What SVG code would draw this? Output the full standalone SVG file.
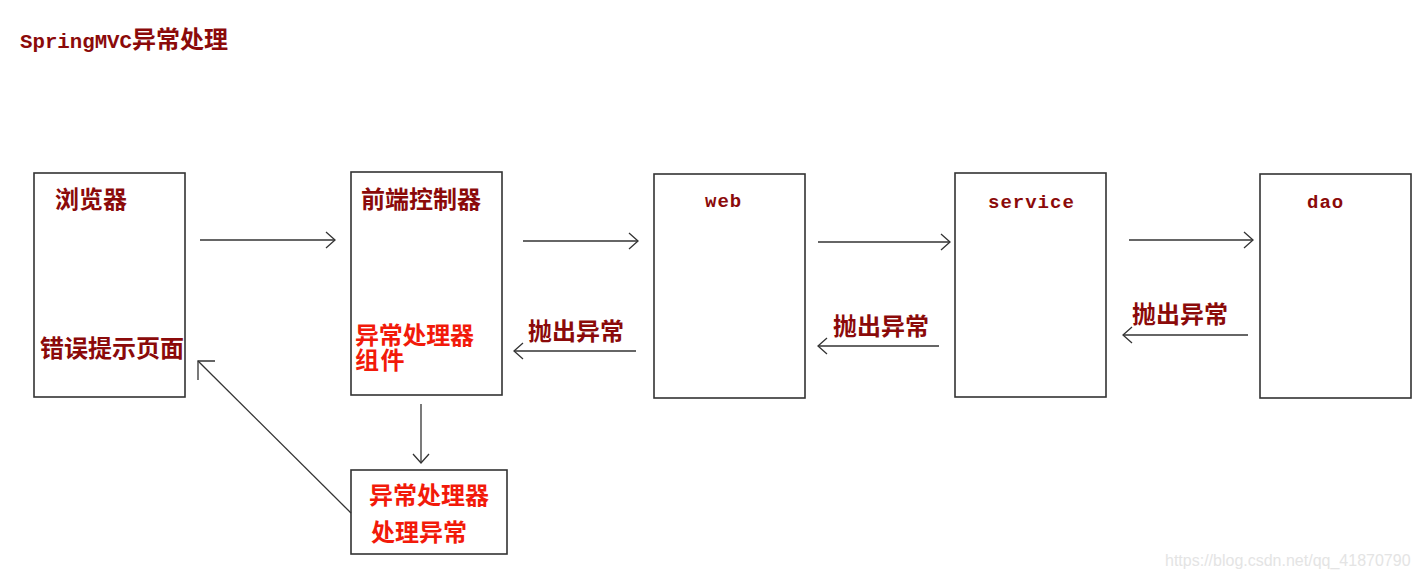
<svg xmlns="http://www.w3.org/2000/svg" width="1419" height="577" viewBox="0 0 1419 577">
<style>
.box{fill:#fff;stroke:#333;stroke-width:1.6}
.ln{fill:none;stroke:#333;stroke-width:1.3}
.cjk{font-family:"Noto Sans CJK SC","Noto Sans CJK JP",sans-serif;font-weight:bold;font-size:24px}
.dr{fill:#8b0a0a}
.rd{fill:#f21a0a}
.mono{font-family:"Liberation Mono",monospace;font-weight:bold;font-size:19px;fill:#8b0a0a}
.wm{font-family:"Liberation Sans",Arial,sans-serif;font-size:16px;fill:#e4e4e4}
</style>
<rect x="0" y="0" width="1419" height="577" fill="#fff"/>
<text x="20" y="48" class="dr"><tspan font-family="Liberation Mono, monospace" font-weight="bold" font-size="20.5" textLength="112" lengthAdjust="spacingAndGlyphs">SpringMVC</tspan><tspan x="132" font-family="Noto Sans CJK SC, sans-serif" font-weight="bold" font-size="24">异常处理</tspan></text>

<g id="browser">
<rect class="box" x="34" y="173" width="151" height="224"/>
<text class="cjk dr" x="55" y="208">浏览器</text>
<text class="cjk dr" x="40" y="357">错误提示页面</text>
</g>
<g id="frontController">
<rect class="box" x="351" y="172" width="151" height="223"/>
<text class="cjk dr" x="361" y="208">前端控制器</text>
<text class="cjk rd" x="355" y="344" font-size="21.5" textLength="119" lengthAdjust="spacing">异常处理器</text>
<text class="cjk rd" x="355" y="369" font-size="21.5" letter-spacing="1.5">组件</text>
</g>
<g id="web">
<rect class="box" x="654" y="174" width="151" height="224"/>
<text class="mono" x="705" y="207" letter-spacing="1">web</text>
</g>
<g id="service">
<rect class="box" x="955" y="173" width="151" height="224"/>
<text class="mono" x="988" y="208" letter-spacing="1">service</text>
</g>
<g id="dao">
<rect class="box" x="1260" y="174" width="151" height="224"/>
<text class="mono" x="1307" y="208" letter-spacing="1">dao</text>
</g>
<g id="handler">
<rect class="box" x="351" y="470" width="156" height="84"/>
<text class="cjk rd" x="369" y="504">异常处理器</text>
<text class="cjk rd" x="371" y="541">处理异常</text>
</g>

<g id="connectors">
<line class="ln" x1="200" y1="240" x2="335" y2="240"/>
<polyline class="ln" points="326,232 335,240 326,248"/>
<line class="ln" x1="523" y1="241" x2="638" y2="241"/>
<polyline class="ln" points="629,233 638,241 629,249"/>
<line class="ln" x1="818" y1="242" x2="950" y2="242"/>
<polyline class="ln" points="941,234 950,242 941,250"/>
<line class="ln" x1="1129" y1="240" x2="1253" y2="240"/>
<polyline class="ln" points="1244,232 1253,240 1244,248"/>

<line class="ln" x1="636" y1="351" x2="514" y2="351"/>
<polyline class="ln" points="523,343 514,351 523,359"/>
<line class="ln" x1="939" y1="346" x2="818" y2="346"/>
<polyline class="ln" points="827,338 818,346 827,354"/>
<line class="ln" x1="1248" y1="335" x2="1123" y2="335"/>
<polyline class="ln" points="1132,327 1123,335 1132,343"/>

<line class="ln" x1="421" y1="404" x2="421" y2="463"/>
<polyline class="ln" points="413,454 421,463 429,454"/>
<line class="ln" x1="351" y1="513" x2="198" y2="361"/>
<polyline class="ln" points="215,361 198,361 198,380"/>

<text class="cjk dr" x="528" y="340">抛出异常</text>
<text class="cjk dr" x="833" y="335">抛出异常</text>
<text class="cjk dr" x="1132" y="323">抛出异常</text>
</g>
<text class="wm" x="1165" y="566">https://blog.csdn.net/qq_41870790</text>
</svg>
